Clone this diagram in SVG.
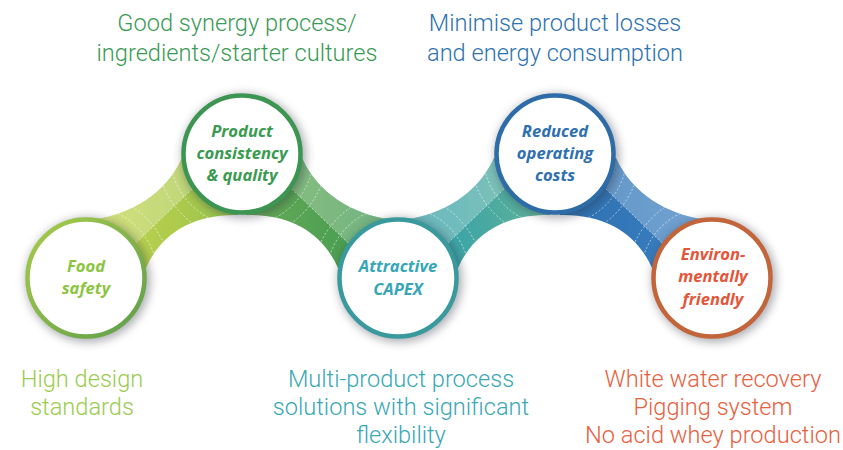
<svg xmlns="http://www.w3.org/2000/svg" width="843" height="450" viewBox="0 0 843 450">
<defs>
<style>
.outer{font-family:Roboto,"Liberation Sans",sans-serif;font-weight:300;font-size:23.6px;text-anchor:middle}
.node{font-family:"Open Sans","Liberation Sans",sans-serif;font-weight:700;font-style:italic;font-size:16.6px;text-anchor:middle}
.ring{fill:#fff;stroke-width:4.5}
.shadow{fill:#2b2f3d;opacity:0.4}
.hl{fill:#fff;opacity:0.26}
.dash{fill:none;stroke:#fff;stroke-width:0.8;stroke-dasharray:2 2;opacity:0.75}
</style>
<linearGradient id="bandGrad" gradientUnits="userSpaceOnUse" x1="86" y1="0" x2="712" y2="0">
<stop offset="0.016" stop-color="#c4d64f"/>
<stop offset="0.15" stop-color="#acca4c"/>
<stop offset="0.222" stop-color="#98c350"/>
<stop offset="0.278" stop-color="#64aa57"/>
<stop offset="0.39" stop-color="#4fa052"/>
<stop offset="0.478" stop-color="#3f9a58"/>
<stop offset="0.518" stop-color="#37a0a6"/>
<stop offset="0.597" stop-color="#3fa5a6"/>
<stop offset="0.69" stop-color="#55ae9c"/>
<stop offset="0.738" stop-color="#68b79f"/>
<stop offset="0.76" stop-color="#2e71b1"/>
<stop offset="0.885" stop-color="#3579ba"/>
<stop offset="1" stop-color="#4585c3"/>
</linearGradient>
<linearGradient id="ring1" x1="0" y1="0" x2="1" y2="1">
<stop offset="0" stop-color="#a9cc4a"/>
<stop offset="1" stop-color="#5d9e4a"/>
</linearGradient>
<filter id="blur" x="-30%" y="-30%" width="160%" height="160%">
<feGaussianBlur stdDeviation="5"/>
</filter>
<clipPath id="bandClip">
<path d="M96,219 C130,214 165,195 182,158 L242,154 L238,215 C190,214 160,236 146,268 L86,278 Z"/>
<path d="M388,219 C354,214 319,195 302,158 L242,154 L246,215 C294,214 324,236 338,268 L398,278 Z"/>
<path d="M408,219 C442,214 477,195 494,158 L554,154 L550,215 C502,214 472,236 458,268 L398,278 Z"/>
<path d="M702,219 C668,214 633,195 616,158 L556,154 L560,215 C608,214 638,236 652,268 L712,278 Z"/>
</clipPath>
</defs>
<rect width="843" height="450" fill="#fff"/>

<g id="connectors">
<g fill="url(#bandGrad)">
<path d="M96,219 C130,214 165,195 182,158 L242,154 L238,215 C190,214 160,236 146,268 L86,278 Z"/>
<path d="M388,219 C354,214 319,195 302,158 L242,154 L246,215 C294,214 324,236 338,268 L398,278 Z"/>
<path d="M408,219 C442,214 477,195 494,158 L554,154 L550,215 C502,214 472,236 458,268 L398,278 Z"/>
<path d="M702,219 C668,214 633,195 616,158 L556,154 L560,215 C608,214 638,236 652,268 L712,278 Z"/>
</g>
<g class="hl">
<path d="M96,219 C130,214 165,195 182,158 L192,189 L136,243 Z"/>
<path d="M388,219 C354,214 319,195 302,158 L292,189 L348,243 Z"/>
<path d="M408,219 C442,214 477,195 494,158 L504,189 L448,243 Z"/>
<path d="M702,219 C668,214 633,195 616,158 L606,189 L662,243 Z"/>
</g>
<g clip-path="url(#bandClip)" class="dash">
<path d="M136,243 L192,189 M348,243 L292,189 M448,243 L504,189 M662,243 L606,189"/>
<circle cx="86" cy="278" r="72"/><circle cx="86" cy="278" r="85"/>
<circle cx="242" cy="154" r="72"/><circle cx="242" cy="154" r="85"/>
<circle cx="398" cy="278" r="72"/><circle cx="398" cy="278" r="85"/>
<circle cx="555" cy="154" r="72"/><circle cx="555" cy="154" r="85"/>
<circle cx="712" cy="278" r="72"/><circle cx="712" cy="278" r="85"/>
</g>
</g>

<g id="node-food-safety">
<circle class="shadow" cx="88" cy="280" r="62" filter="url(#blur)"/>
<circle class="ring" cx="86" cy="278" r="58.5" stroke="url(#ring1)"/>
<text class="node" fill="#8cc53f" x="86" y="272">Food</text>
<text class="node" fill="#8cc53f" x="86" y="294">safety</text>
</g>

<g id="node-product-consistency">
<circle class="shadow" cx="244" cy="156" r="62" filter="url(#blur)"/>
<circle class="ring" cx="242" cy="154" r="58.5" stroke="#3d9552"/>
<text class="node" fill="#3a9a50" x="242" y="137">Product</text>
<text class="node" fill="#3a9a50" x="242" y="159">consistency</text>
<text class="node" fill="#3a9a50" x="242" y="181">&amp; quality</text>
</g>

<g id="node-attractive-capex">
<circle class="shadow" cx="400" cy="280" r="62" filter="url(#blur)"/>
<circle class="ring" cx="398" cy="278" r="58.5" stroke="#389a9c"/>
<text class="node" fill="#36a6b6" x="398" y="272">Attractive</text>
<text class="node" fill="#36a6b6" x="398" y="295">CAPEX</text>
</g>

<g id="node-reduced-costs">
<circle class="shadow" cx="557" cy="156" r="62" filter="url(#blur)"/>
<circle class="ring" cx="555" cy="154" r="58.5" stroke="#2d6ca6"/>
<text class="node" fill="#2f70ae" x="555" y="137">Reduced</text>
<text class="node" fill="#2f70ae" x="555" y="159">operating</text>
<text class="node" fill="#2f70ae" x="555" y="181">costs</text>
</g>

<g id="node-environmentally-friendly">
<circle class="shadow" cx="714" cy="280" r="62" filter="url(#blur)"/>
<circle class="ring" cx="712" cy="278" r="58.5" stroke="#c2653a"/>
<text class="node" fill="#e4553a" x="713" y="260">Environ-</text>
<text class="node" fill="#e4553a" x="713" y="282">mentally</text>
<text class="node" fill="#e4553a" x="713" y="305">friendly</text>
</g>

<g id="label-synergy">
<text class="outer" fill="#3a9a55" x="237" y="31">Good synergy process/</text>
<text class="outer" fill="#3a9a55" x="237" y="61">ingredients/starter cultures</text>
</g>
<g id="label-minimise">
<text class="outer" fill="#2f72b0" x="555" y="31">Minimise product losses</text>
<text class="outer" fill="#2f72b0" x="555" y="61">and energy consumption</text>
</g>
<g id="label-design">
<text class="outer" fill="#9acb4f" x="82" y="387">High design</text>
<text class="outer" fill="#9acb4f" x="82" y="415">standards</text>
</g>
<g id="label-multiproduct">
<text class="outer" fill="#38a8b4" x="401" y="387">Multi-product process</text>
<text class="outer" fill="#38a8b4" x="401" y="415">solutions with significant</text>
<text class="outer" fill="#38a8b4" x="401" y="443">flexibility</text>
</g>
<g id="label-environment">
<text class="outer" fill="#e8603e" x="713" y="387">White water recovery</text>
<text class="outer" fill="#e8603e" x="713" y="415">Pigging system</text>
<text class="outer" fill="#e8603e" x="713" y="443">No acid whey production</text>
</g>
</svg>
